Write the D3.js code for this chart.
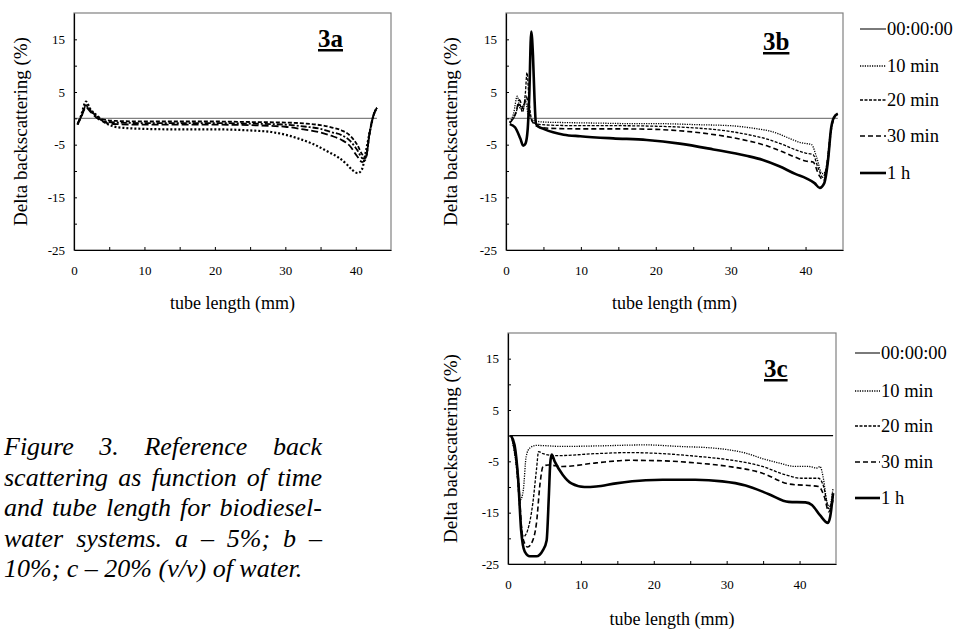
<!DOCTYPE html>
<html>
<head>
<meta charset="utf-8">
<script src="https://cdn.jsdelivr.net/npm/d3@7"></script>
</head>
<body style="margin:0">
<script>
// ---- data ----
const seriesNames = ["00:00:00", "10 min", "20 min", "30 min", "1 h"];
const xTickMarks = [5, 10, 15, 20, 25, 30, 35, 40];
const xTickLabels = [0, 10, 20, 30, 40];
const yTickMarks = [-20, -15, -10, -5, 0, 5, 10, 15];
const yTickLabels = [15, 5, -5, -15, -25];

// panel 3a (5 % water)
const a_base = [[0, 0], [43, 0]];
const a_10min = [[0.5,-1.2],[1.0,0.5],[1.7,3.2],[2.3,1.8],[3.2,0.6],[4.5,-0.9],[5.5,-1.5],[7,-1.8],[10,-2],[15,-2.1],[20,-2.1],[25,-2.3],[28,-2.6],[30,-3.1],[32,-3.9],[34,-4.9],[36,-6.3],[37.5,-7.4],[38.7,-8.7],[39.5,-9.8],[40.3,-10.4],[40.9,-9.6],[41.4,-6.5],[42,-2.5],[42.5,0.5],[43,2]];
const a_20min = [[0.5,-1],[1,0.3],[1.7,2.5],[2.3,1.6],[3.3,0.3],[4.5,-0.3],[6,-0.5],[10,-0.6],[20,-0.6],[25,-0.7],[30,-0.8],[33,-1],[35,-1.3],[36.5,-1.7],[38,-2.3],[39.2,-3.3],[40.2,-5],[41,-7],[41.4,-7.3],[42,-2.5],[42.5,0.5],[43,2]];
const a_30min = [[0.5,-1],[1,0.3],[1.7,2.3],[2.3,1.5],[3.3,0.2],[4.5,-0.6],[6,-0.8],[10,-0.9],[20,-0.9],[25,-1],[30,-1.2],[33,-1.6],[35,-2],[36.5,-2.6],[38,-3.2],[39.2,-4.3],[40.2,-6],[41,-7.6],[41.4,-7.5],[42,-2.5],[42.5,0.5],[43,2]];
const a_1h = [[0.5,-1.2],[1,0.2],[1.7,2],[2.3,1.3],[3.3,0],[4.5,-0.8],[6,-1.1],[10,-1.2],[20,-1.2],[25,-1.3],[30,-1.6],[33,-2.2],[35,-2.7],[36.5,-3.3],[38,-4.1],[39.2,-5.3],[40.2,-7.2],[40.9,-8.3],[41.4,-7.8],[42,-2.5],[42.5,0.5],[43,2]];

// panel 3b (10 % water)
const b_base = [[0, 0], [44.3, 0]];
const b_10min = [[0.5,-0.7],[1.0,0.8],[1.5,4.2],[1.9,1.8],[2.3,2.5],[2.6,3.3],[3.0,0.5],[3.7,-0.4],[5,-0.7],[7.7,-0.8],[12,-0.9],[16.6,-1],[20,-1],[25.4,-1.2],[30,-1.4],[32.1,-1.7],[34,-2.1],[35.2,-2.4],[36.5,-3],[38,-3.9],[39.3,-4.6],[40.8,-5],[41.5,-7.5],[42.2,-10.5],[42.6,-10.2],[43.1,-6],[43.6,-0.5],[44.3,0.8]];
const b_20min = [[0.5,-0.8],[1.2,0.5],[1.8,2.8],[2.2,1.2],[2.6,5],[2.8,8.7],[3.1,3],[3.5,-0.5],[4.2,-1.1],[6,-1.3],[10,-1.4],[15,-1.4],[20,-1.5],[25,-1.8],[30,-2.5],[33,-3.3],[35,-4],[37,-5],[38.5,-5.9],[40,-6.6],[41,-6.9],[41.7,-9.5],[42.3,-11.2],[42.8,-9],[43.3,-3],[43.8,0],[44.3,0.8]];
const b_30min = [[0.5,-0.9],[1.3,1],[1.8,3.5],[2.3,1.8],[2.7,4.2],[3.2,0.5],[3.7,-1],[4.3,-1.6],[6,-1.9],[10,-2],[15,-2],[20,-2.1],[25,-2.6],[30,-3.6],[33,-4.5],[35,-5.3],[37,-6.4],[38.5,-7.3],[40,-8.1],[41,-8.3],[41.8,-10.8],[42.4,-11.8],[42.9,-9],[43.4,-2.5],[43.8,0],[44.3,0.8]];
const b_1h = [[0.5,-1.1],[1.2,-1.7],[1.9,-3.8],[2.3,-5.2],[2.6,-4.8],[2.9,-2],[3.1,4],[3.37,16.5],[3.6,12],[3.8,4],[4.0,-1],[4.35,-1.6],[5,-2],[6.3,-2.65],[7.7,-3.1],[9.9,-3.4],[14.3,-3.8],[18.8,-4.1],[23.2,-4.8],[27.7,-5.9],[32.1,-7.1],[34.3,-7.9],[36.5,-9.1],[38.7,-10.6],[40.1,-11.4],[41.2,-12.3],[41.9,-13.2],[42.5,-12.3],[43,-8],[43.4,-2],[43.8,0.2],[44.3,0.9]];

// panel 3c (20 % water)
const c_base = [[0.2, 0], [44.6, 0]];
const c_10min = [[0.45,0],[1.1,-5.3],[1.7,-12.5],[2.1,-10.6],[2.5,-4],[3,-2.4],[3.9,-1.9],[7.5,-2.1],[12.1,-2],[18.9,-1.8],[23.5,-2.1],[28,-2.4],[30.5,-2.8],[32.6,-3.4],[35,-4.5],[37.1,-5.3],[39.4,-6],[41.2,-6],[42.4,-6.3],[42.8,-6],[43.3,-8.6],[43.7,-12.5],[44.1,-13.8],[44.6,-10.2]];
const c_20min = [[0.45,0],[1.2,-6.7],[1.7,-15.8],[2.1,-19.7],[2.7,-18.4],[3.4,-13.2],[3.9,-6.7],[4.2,-3.1],[4.8,-3.5],[6.6,-3.9],[12.1,-3.5],[16.6,-3.3],[21.2,-3.5],[25.7,-4],[30.3,-4.7],[34.9,-6],[38,-7.6],[40.3,-8.3],[42.6,-8.3],[43.3,-9.9],[44,-14.2],[44.6,-11.9]];
const c_30min = [[0.45,0],[1.4,-8],[2,-19.7],[2.7,-21.7],[3.4,-20.4],[3.9,-17.1],[4.4,-9.3],[4.8,-6],[5.5,-5.7],[7.5,-6],[12.1,-5.3],[16.6,-4.8],[21.2,-4.9],[25.7,-5.3],[30.3,-6],[34.9,-7.3],[38.5,-9.4],[42.6,-9.9],[43.4,-11.9],[44,-14.8],[44.6,-12.5]];
const c_1h = [[0.45,-0.1],[0.9,-1.8],[1.4,-8.6],[1.8,-18.4],[2.3,-22.6],[3,-23.5],[3.9,-23.5],[4.8,-22.3],[5.3,-20.4],[5.6,-11.9],[5.8,-5.3],[6,-3.7],[6.4,-5],[7.5,-7.6],[8.7,-9.3],[10.5,-10],[12.1,-9.9],[14.8,-9.3],[18.9,-8.7],[21.2,-8.6],[25.7,-8.6],[29.4,-8.9],[32.6,-9.7],[35.8,-11.4],[38.5,-12.9],[40.8,-13],[41.7,-13.5],[42.8,-15.5],[43.9,-17],[44.2,-15.8],[44.6,-11.2]];

const captionLines = [
  "Figure 3. Reference back",
  "scattering as function of time",
  "and tube length for biodiesel-",
  "water systems. a \u2013 5%; b \u2013",
  "10%; c \u2013 20% (v/v) of water."
];

// ---- drawing ----
const FONT = "Liberation Serif";
const width = 956, height = 635;
const svg = d3.select("body").append("svg")
  .attr("width", width)
  .attr("height", height)
  .style("display", "block");

svg.append("rect").attr("width", width).attr("height", height).attr("fill", "#fff");

function serif(sel, size) {
  return sel.attr("font-family", FONT)
    .style("font-family", FONT, "important")
    .style("font-size", size + "px")
    .attr("fill", "#000");
}

// line styles used in b/c and legend
const styles = [
  { stroke: "#333", width: 1.1, dash: null },
  { stroke: "#000", width: 1.3, dash: "1.2,1.2" },
  { stroke: "#000", width: 1.3, dash: "3,1.5" },
  { stroke: "#000", width: 1.6, dash: "5,3" },
  { stroke: "#000", width: 2.6, dash: null }
];
// panel a uses heavier dot/dash patterns
const stylesA = [
  { stroke: "#808080", width: 1.3, dash: null },
  { stroke: "#000", width: 2.2, dash: "2,2" },
  { stroke: "#000", width: 1.8, dash: "4,2" },
  { stroke: "#000", width: 1.8, dash: "6,2,2,2" },
  { stroke: "#000", width: 1.8, dash: "7,3" }
];

const panels = [
  { name: "3a", left: 74, right: 391, top: 13, bottom: 250, series: [a_base, a_10min, a_20min, a_30min, a_1h],
    styles: stylesA, baseColor: "#808080", labelX: 318, labelY: 47, titleY: 309, yTitleX: 20 },
  { name: "3b", left: 506, right: 843, top: 13, bottom: 250, series: [b_base, b_10min, b_20min, b_30min, b_1h],
    styles: styles, baseColor: "#808080", labelX: 763, labelY: 50, titleY: 309, yTitleX: 450 },
  { name: "3c", left: 508, right: 836, top: 333, bottom: 564, series: [c_base, c_10min, c_20min, c_30min, c_1h],
    styles: styles, baseColor: "#000", labelX: 764, labelY: 377, titleY: 625, yTitleX: 450 }
];

panels.forEach(p => {
  const x = d3.scaleLinear().domain([0, 45]).range([p.left, p.right]);
  const y = d3.scaleLinear().domain([-25, 20]).range([p.bottom, p.top]);
  const g = svg.append("g");

  // gray frame (top/right)
  g.append("rect")
    .attr("x", p.left).attr("y", p.top)
    .attr("width", p.right - p.left).attr("height", p.bottom - p.top)
    .attr("fill", "none").attr("stroke", "#808080").attr("stroke-width", 1.2);

  const line = d3.line()
    .x(d => x(d[0]))
    .y(d => y(d[1]))
    .curve(d3.curveMonotoneX);

  p.series.forEach((s, i) => {
    const st = p.styles[i];
    g.append("path")
      .datum(s)
      .attr("d", line)
      .attr("fill", "none")
      .attr("stroke", i === 0 ? p.baseColor : st.stroke)
      .attr("stroke-width", st.width)
      .attr("stroke-dasharray", st.dash)
      .attr("stroke-linejoin", "round");
  });

  const xAxis = d3.axisBottom(x)
    .tickValues(xTickLabels.concat(xTickMarks.filter(v => !xTickLabels.includes(v))))
    .tickFormat(d => xTickLabels.includes(d) ? d : "")
    .tickSizeInner(-3).tickSizeOuter(0).tickPadding(16);
  const yAxis = d3.axisLeft(y)
    .tickValues(yTickLabels.concat(yTickMarks.filter(v => !yTickLabels.includes(v))))
    .tickFormat(d => yTickLabels.includes(d) ? d : "")
    .tickSizeInner(-3).tickSizeOuter(0).tickPadding(9);

  const gx = g.append("g").attr("transform", `translate(0,${p.bottom})`).call(xAxis);
  const gy = g.append("g").attr("transform", `translate(${p.left},0)`).call(yAxis);
  [gx, gy].forEach(a => {
    a.attr("font-family", FONT).attr("font-size", 13);
    serif(a.selectAll("text"), 13);
    a.select(".domain").attr("stroke", "#000").attr("stroke-width", 1.2);
    a.selectAll(".tick line").attr("stroke", "#000");
  });
  // no tick marks at the corner values
  gx.selectAll(".tick").filter(d => d === 0).select("line").remove();
  gy.selectAll(".tick").filter(d => d === -25).select("line").remove();

  // axis titles
  serif(g.append("text"), 18)
    .attr("x", (p.left + p.right) / 2).attr("y", p.titleY)
    .attr("text-anchor", "middle")
    .text("tube length (mm)");
  serif(g.append("text"), 19)
    .attr("transform", `translate(${p.yTitleX},${(p.top + p.bottom) / 2}) rotate(-90)`)
    .attr("text-anchor", "middle")
    .attr("dy", "0.35em")
    .text("Delta backscattering (%)");

  // panel label, bold underlined
  serif(g.append("text"), 25)
    .attr("x", p.labelX).attr("y", p.labelY)
    .style("font-weight", "bold")
    .style("text-decoration", "underline")
    .text(p.name);
});

// legends
const legends = [
  { x0: 860, x1: 886, ys: [29, 66, 100, 136, 173] },
  { x0: 855, x1: 880, ys: [353, 391, 426, 462, 498] }
];
legends.forEach(L => {
  seriesNames.forEach((name, i) => {
    const st = styles[i];
    svg.append("line")
      .attr("x1", L.x0).attr("x2", L.x1)
      .attr("y1", L.ys[i]).attr("y2", L.ys[i])
      .attr("stroke", i === 0 ? "#222" : st.stroke)
      .attr("stroke-width", i === 0 ? 1.2 : st.width)
      .attr("stroke-dasharray", st.dash);
    serif(svg.append("text"), 18.5)
      .attr("x", L.x1 + 1).attr("y", L.ys[i] + 6)
      .text(name);
  });
});

// caption, justified lines
const capX = 4, capW = 318, capY0 = 455, capDY = 30.5;
captionLines.forEach((t, i) => {
  const txt = serif(svg.append("text"), 26)
    .attr("x", capX).attr("y", capY0 + i * capDY)
    .style("font-style", "italic")
    .text(t);
  if (i < captionLines.length - 1) {
    const w = txt.node().getComputedTextLength();
    const spaces = (t.match(/ /g) || []).length;
    if (spaces > 0) txt.attr("word-spacing", (capW - w) / spaces);
  }
});
</script>
</body>
</html>
